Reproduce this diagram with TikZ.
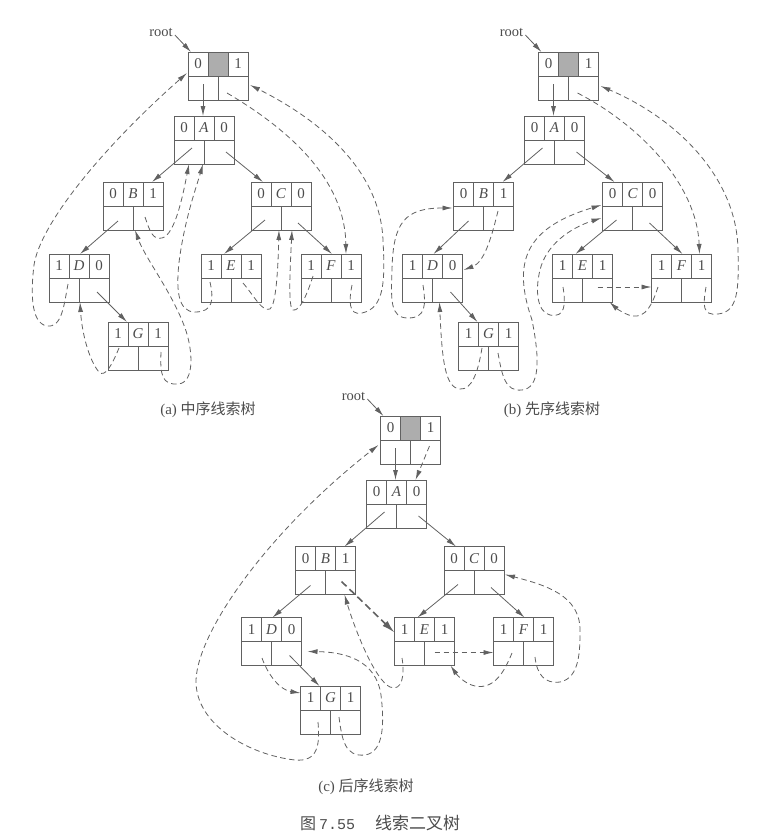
\documentclass[tikz,border=0pt]{standalone}
\usepackage{fontspec}
\setmainfont{Liberation Serif}
\newfontfamily\cjk{Noto Sans CJK SC}
\newfontfamily\monof{Liberation Mono}
\usetikzlibrary{calc,arrows.meta}
\definecolor{lgray}{gray}{0.38}
\definecolor{tgray}{gray}{0.3}
\definecolor{sgray}{gray}{0.68}
\tikzset{
 tbox/.style={rectangle,draw=lgray,line width=0.9pt,minimum width=60pt,minimum height=48pt,inner sep=0pt,outer sep=0pt},
 cline/.style={draw=lgray,line width=0.9pt},
 ctxt/.style={inner sep=0pt,font=\fontsize{15}{16}\selectfont,text=tgray},
 ptr/.style={draw=lgray,line width=0.8pt,-{Latex[length=10pt,width=5pt]}},
 thr/.style={draw=lgray,line width=0.8pt,dash pattern=on 5.5pt off 3.5pt,-{Latex[length=10pt,width=5pt]}},
 bthr/.style={draw=lgray,line width=1.6pt,dash pattern=on 7pt off 4pt,-{Latex[length=13pt,width=7pt]}},
 rootlbl/.style={inner sep=0pt,font=\fontsize{14.5}{16}\selectfont,text=tgray},
 captxt/.style={inner sep=0pt,font=\fontsize{15}{18}\selectfont,text=tgray},
}
\newcommand\cellgrid[1]{%
 \draw[cline] (#1.west) -- (#1.east)
   ($(#1.north west)+(20,0)$) -- ($(#1.west)+(20,0)$)
   ($(#1.north west)+(40,0)$) -- ($(#1.west)+(40,0)$)
   (#1.center) -- (#1.south);}
\newcommand\tnode[5]{%
 \node[tbox] (#1) at (#2) {};
 \cellgrid{#1}
 \node[ctxt] (#1-l) at ($(#1.center)+(-20,-12)$) {#3};
 \node[ctxt] (#1-d) at ($(#1.center)+(0,-12)$) {\itshape #4};
 \node[ctxt] (#1-r) at ($(#1.center)+(20,-12)$) {#5};}
\newcommand\hnode[2]{%
 \node[tbox] (#1) at (#2) {};
 \fill[sgray] ($(#1.north west)+(20,0)$) rectangle ($(#1.west)+(40,0)$);
 \draw[cline] (#1.north west) rectangle (#1.south east);
 \cellgrid{#1}
 \node[ctxt] (#1-l) at ($(#1.center)+(-20,-12)$) {0};
 \node[ctxt] (#1-r) at ($(#1.center)+(20,-12)$) {1};}
\newcommand\solidptrs[1]{%
 \draw[ptr] ($(#1h.center)+(-15,8)$) -- ($(#1A.north)+(-1,0)$);
 \draw[ptr] ($(#1A.center)+(-12,8)$) -- ($(#1B.north)+(19,0)$);
 \draw[ptr] ($(#1A.center)+(22,12)$) -- ($(#1C.north)+(-18,0)$);
 \draw[ptr] ($(#1B.center)+(-15,15)$) -- ($(#1D.north)+(1,0)$);
 \draw[ptr] ($(#1D.center)+(18,14)$) -- ($(#1G.north)+(-11,0)$);
 \draw[ptr] ($(#1C.center)+(-16,14)$) -- ($(#1E.north)+(-7,0)$);
 \draw[ptr] ($(#1C.center)+(17,17)$) -- ($(#1F.north)+(1,0)$);
 \node[rootlbl] (#1root) at ($(#1h.center)+(-57,-44)$) {root};
 \draw[ptr] ($(#1root.east)+(2,3)$) -- ($(#1h.north west)+(3,0)$);}
\begin{document}
\begin{tikzpicture}[x=1pt,y=-1pt]
\useasboundingbox (0,0) rectangle (765,839);
% ---------- (a) inorder ----------
\hnode{ah}{218,76}
\tnode{aA}{204,140}{0}{A}{0}
\tnode{aB}{133,206}{0}{B}{1}
\tnode{aC}{281,206}{0}{C}{0}
\tnode{aD}{79,278}{1}{D}{0}
\tnode{aE}{231,278}{1}{E}{1}
\tnode{aF}{331,278}{1}{F}{1}
\tnode{aG}{138,346}{1}{G}{1}
\solidptrs{a}
\draw[thr] ($(aD.center)+(-11,6)$) .. controls (64,305) and (62,328) .. (47,326) .. controls (30,323) and (31,290) .. (34,265) .. controls (40,225) and (100,150) .. ($(ah.west)+(-1,-3)$);
\draw[thr] ($(aG.center)+(-19,2)$) .. controls (112,365) and (105,378) .. (99,372) .. controls (90,362) and (82,335) .. ($(aD.south)+(1,0)$);
\draw[thr] ($(aG.center)+(23,6)$) .. controls (160,375) and (162,385) .. (178,384) .. controls (195,383) and (193,350) .. (185,328) .. controls (172,292) and (145,258) .. ($(aB.south)+(2,0)$);
\draw[thr] ($(aB.center)+(12,11)$) .. controls (150,232) and (153,240) .. (162,238) .. controls (175,235) and (183,195) .. ($(aA.south)+(-15,0)$);
\draw[thr] ($(aE.center)+(-21,4)$) .. controls (214,300) and (213,312) .. (195,312) .. controls (178,312) and (175,290) .. (180,255) .. controls (186,215) and (197,185) .. ($(aA.south)+(-1,0)$);
\draw[thr] ($(aE.center)+(12,5)$) .. controls (255,297) and (262,312) .. (270,309) .. controls (276,305) and (278,270) .. ($(aC.south)+(-2,0)$);
\draw[thr] ($(aF.center)+(-18,-2)$) .. controls (308,292) and (300,312) .. (293,310) .. controls (288,308) and (290,270) .. ($(aC.south)+(11,0)$);
\draw[thr] ($(aF.center)+(21,7)$) .. controls (349,300) and (348,316) .. (362,313) .. controls (385,308) and (385,280) .. (383,240) .. controls (380,170) and (320,120) .. ($(ah.east)+(2,9)$);
\draw[thr] ($(ah.center)+(9,17)$) .. controls (290,130) and (345,180) .. ($(aF.north)+(15,0)$);
\node[captxt] (capa) at (208,410) {(a) {\cjk 中序线索树}};
% ---------- (b) preorder ----------
\hnode{bh}{568.5,76}
\tnode{bA}{554.5,140}{0}{A}{0}
\tnode{bB}{483.5,206}{0}{B}{1}
\tnode{bC}{632.5,206}{0}{C}{0}
\tnode{bD}{432.5,278}{1}{D}{0}
\tnode{bE}{582.5,278}{1}{E}{1}
\tnode{bF}{681.5,278}{1}{F}{1}
\tnode{bG}{488.5,346}{1}{G}{1}
\solidptrs{b}
\draw[thr] ($(bB.center)+(14.5,5)$) .. controls (492,235) and (485,262) .. ($(bD.east)+(1,-8)$);
\draw[thr] ($(bD.center)+(-9.5,7)$) .. controls (426,305) and (426,318) .. (408,318) .. controls (390,318) and (391,300) .. (392,270) .. controls (393,222) and (405,208) .. ($(bB.west)+(-1,2)$);
\draw[thr] ($(bG.center)+(-6.5,2)$) .. controls (478,372) and (472,390) .. (460,389) .. controls (445,388) and (442,360) .. ($(bD.south)+(7,0)$);
\draw[thr] ($(bG.center)+(9.5,7)$) .. controls (502,375) and (505,392) .. (522,390) .. controls (540,388) and (540,360) .. (532,320) .. controls (512,262) and (525,228) .. ($(bC.west)+(-1,-1)$);
\draw[thr] ($(bE.center)+(-19.5,9)$) .. controls (566,305) and (565,318) .. (550,315) .. controls (537,312) and (535,290) .. (540,270) .. controls (546,245) and (570,228) .. ($(bC.west)+(-1,12)$);
\draw[thr] ($(bE.center)+(15,9)$) -- ($(bF.west)+(0,9)$);
\draw[thr] ($(bF.center)+(-23.5,9)$) .. controls (652,305) and (646,318) .. (632,316) .. controls (624,314) and (616,308) .. ($(bE.south east)+(-3,0)$);
\draw[thr] ($(bF.center)+(24.5,9)$) .. controls (703,305) and (702,316) .. (718,314) .. controls (738,312) and (739,290) .. (738,250) .. controls (737,180) and (680,120) .. ($(bh.east)+(2,10)$);
\draw[thr] ($(bh.center)+(9,17)$) .. controls (640,125) and (697,185) .. ($(bF.north)+(18,0)$);
\node[captxt] (capb) at (552,410) {(b) {\cjk 先序线索树}};
% ---------- (c) postorder ----------
\hnode{ch}{410.5,440}
\tnode{cA}{396.5,504}{0}{A}{0}
\tnode{cB}{325.5,570.5}{0}{B}{1}
\tnode{cC}{474,570.5}{0}{C}{0}
\tnode{cD}{271.5,641.5}{1}{D}{0}
\tnode{cE}{424.5,641.5}{1}{E}{1}
\tnode{cF}{523.5,641.5}{1}{F}{1}
\tnode{cG}{330.5,710}{1}{G}{1}
\solidptrs{c}
\draw[thr] ($(cG.center)+(-12.5,12)$) .. controls (320,745) and (318,762) .. (295,760) .. controls (250,755) and (195,725) .. (196,680) .. controls (198,630) and (270,530) .. ($(ch.west)+(-2,5)$);
\draw[thr] ($(cG.center)+(8.5,7)$) .. controls (342,740) and (345,757) .. (365,755) .. controls (385,752) and (384,720) .. (381,695) .. controls (376,660) and (345,652) .. ($(cD.east)+(6,10)$);
\draw[thr] ($(cD.center)+(-9.5,16.5)$) .. controls (268,675) and (280,690) .. ($(cG.west)+(0,-17)$);
\draw[bthr] ($(cB.center)+(16,11)$) -- ($(cE.west)+(0,-9)$);
\draw[thr] ($(cE.center)+(-22.5,16.5)$) .. controls (405,675) and (402,692) .. (390,687) .. controls (375,680) and (355,630) .. ($(cB.south)+(19,0)$);
\draw[thr] ($(cE.center)+(10,11)$) -- ($(cF.west)+(0,11)$);
\draw[thr] ($(cF.center)+(-11.5,11.5)$) .. controls (505,670) and (495,690) .. (475,686) .. controls (465,684) and (457,675) .. ($(cE.south east)+(-4,0)$);
\draw[thr] ($(cF.center)+(11.5,15.5)$) .. controls (537,675) and (545,684) .. (560,682) .. controls (580,678) and (580,650) .. (580,630) .. controls (580,595) and (545,585) .. ($(cC.east)+(1,4)$);
\draw[thr] ($(ch.center)+(19,6)$) -- ($(cA.north)+(19,0)$);
\node[captxt] (capc) at (366,787) {(c) {\cjk 后序线索树}};
% ---------- figure caption ----------
\node[captxt,anchor=west] (fig) at (300,823) {{\cjk\fontsize{16}{18}\selectfont 图}\hspace{3pt}{\monof 7.55}\hspace{20pt}{\cjk\fontsize{17}{18}\selectfont 线索二叉树}};
\end{tikzpicture}
\end{document}
